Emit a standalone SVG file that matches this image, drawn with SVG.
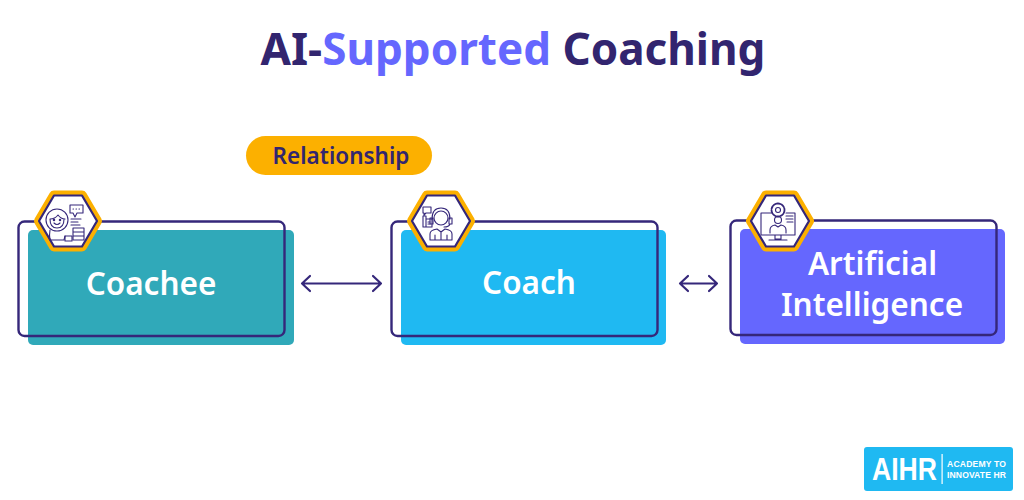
<svg xmlns="http://www.w3.org/2000/svg" width="1024" height="500" viewBox="0 0 1024 500">
<style>
text{font-family:"Noto Sans","Liberation Sans",sans-serif}
.t{font-size:44px;font-weight:700;fill:#32256f}
.l{font-size:31.500px;font-weight:600;fill:#fff;text-anchor:middle}
.o{fill:none;stroke:#35277a;stroke-width:2.4}
.hx{fill:none;stroke:#fcb000;stroke-width:10;stroke-linejoin:round}
.hi{fill:#fff;stroke:#35277a;stroke-width:2.2;stroke-linejoin:round}
.i{fill:none;stroke:#35277a;stroke-width:1.1;stroke-linecap:round;stroke-linejoin:round}
.c{fill:none;stroke:#35277a;stroke-width:2.2;stroke-linecap:round;stroke-linejoin:round}
.s{font-size:8.600px;font-weight:700;fill:#fff;font-family:"Liberation Sans",sans-serif}
</style>
<defs>
<g id="hex">
<path class="hx" d="M-14 -25.500 H14 L29 0 L14 25.500 H-14 L-29 0Z"/>
<path class="hi" d="M-14 -25.500 H14 L29 0 L14 25.500 H-14 L-29 0Z"/>
</g>
</defs>
<text id="title" x="513" y="65" text-anchor="middle" class="t">AI-<tspan fill="#6567fe">Supported</tspan> Coaching</text>
<g id="relationship">
<rect x="246" y="136" width="186" height="39" rx="19.500" fill="#fcb000"/>
<text x="341" y="164" text-anchor="middle" style="font-size:22.500px;font-weight:600;fill:#32256f">Relationship</text>
</g>
<g id="connectors">
<path class="c" d="M302 283.500H381M310 276l-8 7.500 8 7.500M373 276l8 7.500-8 7.500"/>
<path class="c" d="M680 283.500H717M688 276l-8 7.500 8 7.500M709 276l8 7.500-8 7.500"/>
</g>
<g id="coachee">
<rect x="28" y="230" width="266" height="115" rx="5" fill="#30a9b9"/>
<rect class="o" x="18.500" y="221.500" width="266" height="114.500" rx="6"/>
<text class="l" x="151" y="294.500">Coachee</text>
<use href="#hex" x="68" y="221"/>
<g class="i">
<circle cx="57" cy="220" r="11"/>
<path d="M50 219q5 0 8-4 3 4 7 4M50 219q0 9 7 9t7-9M54 223q3 3 6 0M50 230q-1 6 0 10h14l1-4"/>
<circle cx="54" cy="220" r=".7"/><circle cx="60" cy="220" r=".7"/>
<path d="M70 205h13v8h-6l-2 4-2-4h-3zM73 209h.5M76 209h.5M79 209h.5M71 219h10M71 222h7M71 225h9"/>
<path d="M73 228h11v4h-11zM73 232h11v4h-11zM73 236h11v4h-11z"/>
<path d="M65 236h7v5h-7z"/>
</g>
</g>
<g id="coach">
<rect x="401" y="230" width="265" height="115" rx="5" fill="#1fb9f2"/>
<rect class="o" x="391.500" y="221.500" width="266" height="114.500" rx="6"/>
<text class="l" x="529" y="293.500">Coach</text>
<use href="#hex" x="441" y="221"/>
<g class="i">
<circle cx="441" cy="218" r="7"/><path d="M432 219q0-11 9-11t9 11M430 218h3v6h-3zM449 218h3v6h-3zM450 224q-1 3-6 3"/>
<path d="M430 240v-6q0-4 7-5l4 3 4-3q7 1 7 5v6zM441 232v8M435 235v5M447 235v5"/>
<path d="M423 207h8v6h-5l-2 2v-2h-1zM423 216h3v11h-3zM426 219h6v8h-6zM428 222h2M428 224h2"/>
</g>
</g>
<g id="ai">
<rect x="740" y="229" width="265" height="115" rx="5" fill="#6567fe"/>
<rect class="o" x="730.500" y="220.500" width="266" height="114.500" rx="6"/>
<text class="l" x="872.500" y="274.500">Artificial</text>
<text class="l" x="872" y="315.500">Intelligence</text>
<use href="#hex" x="780" y="221"/>
<g class="i">
<path d="M771 213h-10v22h34v-22h-9M775 235v4h6v-4M769 240h18"/>
<circle cx="778" cy="210" r="6.500" stroke-dasharray="3 1.200" stroke-width="1.800"/><circle cx="778" cy="210" r="2.500"/>
<circle cx="778" cy="220" r="3.500"/><path d="M770 233v-3q0-4 5-5l3 2 3-2q5 1 5 5v3M786 216h7M786 219h7M787 222h6"/>
</g>
</g>
<g id="logo">
<rect x="864" y="447" width="149" height="44" rx="3" fill="#1fb9f2"/>
<text x="872" y="480" style="font-size:31px;font-weight:700;fill:#fff;font-family:'Liberation Sans',sans-serif" textLength="65" lengthAdjust="spacingAndGlyphs">AIHR</text>
<rect x="941.500" y="454" width="1.200" height="30" fill="#fff"/>
<text class="s" x="947" y="467" textLength="59">ACADEMY TO</text>
<text class="s" x="947" y="477.500" textLength="59">INNOVATE HR</text>
</g>
</svg>
